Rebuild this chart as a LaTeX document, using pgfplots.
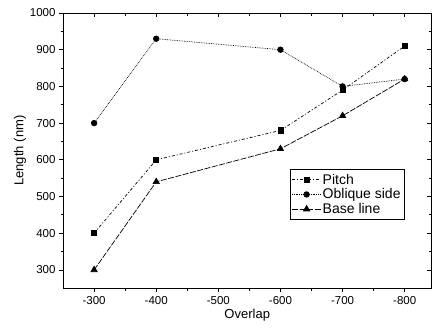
\documentclass[border=0pt]{standalone}
\usepackage{fontspec}
\setmainfont{Liberation Sans}
\usepackage{pgfplots}
\pgfplotsset{compat=1.18}
\begin{document}
\begin{tikzpicture}
\pgfplotsset{common/.style={
  scale only axis, width=368pt, height=275pt,
  x dir=reverse, xmin=-843, xmax=-250, ymin=250, ymax=1000,
  xtick={-300,-400,-500,-600,-700,-800}, minor x tick num=1,
  ytick={300,400,...,1000}, minor y tick num=1,
  major tick length=4pt, minor tick length=2.5pt,
  tick style={black, line width=0.8pt},
  axis line style={line width=1pt},
}}
\begin{axis}[common, name=ax,
  tick align=outside, xtick pos=left, ytick pos=left,
  /pgf/number format/assume math mode=true,
  /pgf/number format/1000 sep={},
  ticklabel style={font=\fontsize{11.5}{12}\selectfont},
  xticklabel style={yshift=-1pt},
  xlabel={Overlap}, ylabel={Length (nm)},
  label style={font=\fontsize{13}{14}\selectfont},
  xlabel style={at={(axis description cs:0.5,-0.098)}, anchor=center},
  ylabel style={at={(axis description cs:-0.117,0.5)}, anchor=center},
  legend style={draw=black, line width=0.8pt, font=\fontsize{14}{15}\selectfont,
    at={(0.927,0.433)}, anchor=north east, row sep=-1pt, inner xsep=2pt, inner ysep=2.5pt,
    nodes={inner xsep=1.5pt}},
  legend cell align=left,
  legend image code/.code={
    \draw[mark repeat=2,mark phase=2] plot coordinates {(0cm,0cm) (0.5cm,0cm) (1cm,0cm)};},
]
\addplot[black, line width=0.7pt, dash pattern=on 3pt off 2pt on 1pt off 2pt, mark=square*, mark size=2.6pt, mark options={solid}]
  coordinates {(-300,400) (-400,600) (-600,680) (-700,790) (-800,910)};
\addlegendentry{Pitch}
\addplot[black, line width=0.7pt, densely dotted, mark=*, mark size=2.8pt, mark options={solid}]
  coordinates {(-300,700) (-400,930) (-600,900) (-700,800) (-800,820)};
\addlegendentry{Oblique side}
\addplot[black, line width=0.7pt, dash pattern=on 6pt off 1.5pt, mark=triangle*, mark size=3.6pt, mark options={solid}]
  coordinates {(-300,300) (-400,540) (-600,630) (-700,720) (-800,820)};
\addlegendentry{Base line}
\end{axis}
\begin{axis}[common, at={(ax.south west)}, anchor=south west,
  tick align=inside, xtick pos=right, ytick pos=right,
  xticklabels={}, yticklabels={}]
\end{axis}
\pgfresetboundingbox
\path ([shift={(-63pt,-44pt)}]ax.south west) rectangle ([shift={(0.6pt,13pt)}]ax.north east);
\end{tikzpicture}
\end{document}
